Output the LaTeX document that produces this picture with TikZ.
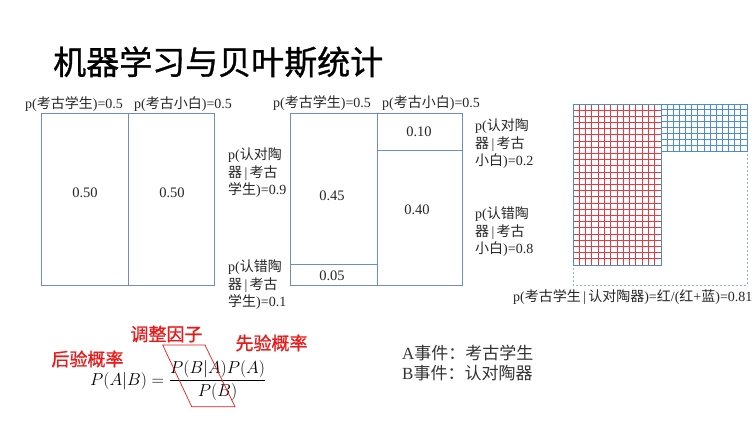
\documentclass[tikz,border=0pt]{standalone}
\usepackage{fontspec}
\setmainfont{Liberation Serif}
\newfontfamily\cjk{Noto Sans CJK SC}
\newfontfamily\cjkb[FakeBold=1]{Noto Sans CJK SC}
\newcommand\zh[1]{{\cjk #1}}
\definecolor{bx}{RGB}{110,140,200}
\definecolor{gr}{RGB}{240,55,65}
\definecolor{gb}{RGB}{75,140,210}
\definecolor{tr}{RGB}{235,25,25}
\begin{document}
\begin{tikzpicture}[x=1pt,y=-1pt,
  lab/.style={font=\fontsize{14}{17.5}\selectfont, inner sep=0pt, align=left, text=black!85, anchor=west},
  num/.style={font=\fontsize{14.5}{17}\selectfont, inner sep=0pt, text=black!85},
  box/.style={draw=bx, line width=0.8pt},
  redlab/.style={font=\cjkb\fontsize{18}{20}\selectfont, text=tr, inner sep=0pt},
  evt/.style={font=\fontsize{17}{20}\selectfont, text=black!80, inner sep=0pt, anchor=west}]
\useasboundingbox (0,0) rectangle (756,421);
% title
\node[anchor=west, inner sep=0pt, font=\cjkb\fontsize{33}{36}\selectfont] (title) at (53,62) {机器学习与贝叶斯统计};
% left box
\draw[box] (41,113) rectangle (214,285);
\draw[box] (128,113) -- (128,285);
\node[lab] (la) at (25,104) {p(\zh{考古学生})=0.5};
\node[lab] (lb) at (134,104) {p(\zh{考古小白})=0.5};
\node[num] (n1) at (85,193) {0.50};
\node[num] (n2) at (172,193) {0.50};
% middle box
\draw[box] (290,113) rectangle (462,285);
\draw[box] (377,113) -- (377,285);
\draw[box] (290,264) -- (377,264);
\draw[box] (377,150) -- (462,150);
\node[lab] (ma) at (273,103) {p(\zh{考古学生})=0.5};
\node[lab] (mb) at (382,103) {p(\zh{考古小白})=0.5};
\node[num] (m1) at (419,132) {0.10};
\node[num] (m2) at (332,196) {0.45};
\node[num] (m3) at (417,210) {0.40};
\node[num] (m4) at (332,276) {0.05};
\node[lab] (s1) at (228,173) {p(\zh{认对陶}\\\zh{器}\,|\,\zh{考古}\\\zh{学生})=0.9};
\node[lab] (s2) at (228,285) {p(\zh{认错陶}\\\zh{器}\,|\,\zh{考古}\\\zh{学生})=0.1};
\node[lab] (s3) at (475,144) {p(\zh{认对陶}\\\zh{器}\,|\,\zh{考古}\\\zh{小白})=0.2};
\node[lab] (s4) at (475,232) {p(\zh{认错陶}\\\zh{器}\,|\,\zh{考古}\\\zh{小白})=0.8};
% grid
\draw[bx!70, line width=0.7pt, dash pattern=on 2pt off 2pt] (573,104) rectangle (747,285);
\foreach \i in {0,...,14} \draw[gr, line width=1pt] ({573+\i*88/14},104) -- ({573+\i*88/14},265);
\foreach \j in {0,...,26} \draw[gr, line width=1pt] (573,{104+\j*161/26}) -- (661,{104+\j*161/26});
\foreach \i in {0,...,14} \draw[gb, line width=1pt] ({661+\i*86/14},104) -- ({661+\i*86/14},151);
\foreach \j in {0,...,8} \draw[gb, line width=1pt] (661,{104+\j*47/8}) -- (747,{104+\j*47/8});
\draw[gb, line width=1pt] (573,104) rectangle (661,265);
\draw[gb, line width=1pt] (661,104) rectangle (747,151);
\node[lab] (gl) at (513,297) {p(\zh{考古学生}\,|\,\zh{认对陶器})=\zh{红}/(\zh{红}+\zh{蓝})=0.81};
% formula
\node[anchor=base west, inner sep=0pt, font=\fontsize{17}{20}\selectfont] (f) at (90,385) {$\displaystyle P(A|B)=\frac{P(B|A)P(A)}{P(B)}$};
\node[redlab] (r1) at (87.5,359) {后验概率};
\node[redlab] (r2) at (166.5,334) {调整因子};
\node[redlab] (r3) at (271.5,343) {先验概率};
\draw[tr, line width=0.7pt] (162.7,345) -- (205,345) -- (235,406.7) -- (191.7,406.7) -- cycle;
% events
\node[evt] (ea) at (402,353) {A\zh{事件：考古学生}};
\node[evt] (eb) at (402,373) {B\zh{事件：认对陶器}};
\end{tikzpicture}
\end{document}
